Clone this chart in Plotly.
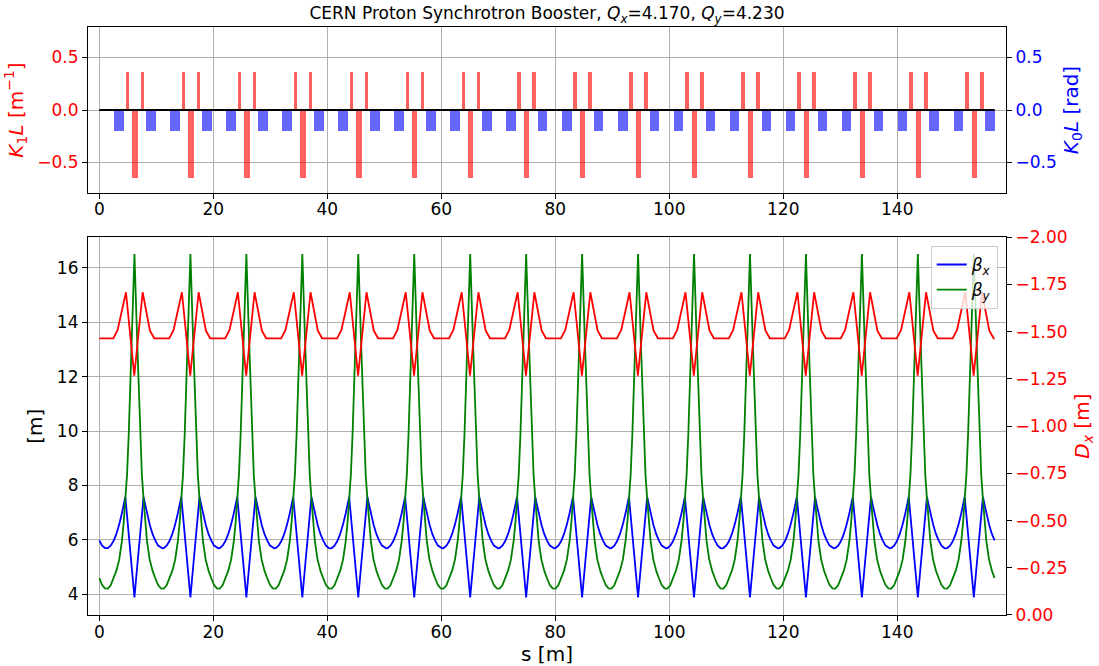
import plotly.graph_objects as go

# ---------------- data ----------------
cell_starts = [0.0, 9.8175, 19.635, 29.4525, 39.27, 49.0875, 58.905, 68.7225,
               78.54, 88.3575, 98.175, 107.9925, 117.81, 127.6275, 137.445, 147.2625]
ring_length = 157.08

# magnets of one cell
dip_pos = [3.47, 9.06]
dip_len = [1.7, 1.7]
dip_k0l = [-0.196, -0.196]
quad_pos = [4.95, 6.265, 7.58]
quad_len = [0.6, 0.95, 0.6]
quad_k1l = [0.366, -0.647, 0.366]

# optics in one cell
s_beta_cell = [0.0, 0.5, 1.0, 1.26, 1.5, 2.0, 2.5, 2.97, 3.0, 3.47, 3.5, 3.97, 4.0,
               4.27, 4.3, 4.57, 4.87, 5.17, 5.67, 6.17, 6.67, 7.17, 7.47, 7.77,
               8.04, 8.07, 8.34, 8.37, 8.84, 8.87, 9.34, 9.37]
betx_cell = [5.98, 5.79, 5.70, 5.69, 5.70, 5.79, 5.96, 6.20, 6.22, 6.55, 6.57, 6.98, 7.01,
             7.28, 7.31, 7.58, 6.89, 6.20, 5.06, 3.89, 5.06, 6.20, 6.89, 7.58,
             7.31, 7.28, 7.01, 6.98, 6.57, 6.55, 6.22, 6.20]
bety_cell = [4.60, 4.34, 4.22, 4.20, 4.21, 4.33, 4.57, 4.85, 4.87, 5.25, 5.28, 5.95, 6.00,
             6.60, 6.68, 7.50, 8.40, 9.90, 13.20, 16.50, 13.20, 9.90, 8.40, 7.50,
             6.68, 6.60, 6.00, 5.95, 5.28, 5.25, 4.87, 4.85]
s_dx_cell = [0.0, 2.46, 3.22, 4.68, 6.14, 7.61, 8.89, 9.65]
dx_cell = [-1.465, -1.465, -1.509, -1.709, -1.267, -1.709, -1.505, -1.465]
end_betx, end_bety, end_dx = 5.98, 4.60, -1.465

title_text = ("CERN Proton Synchrotron Booster, <i>Q<sub>x</sub></i>=4.170, "
              "<i>Q<sub>y</sub></i>=4.230")
x_ticks = [0, 20, 40, 60, 80, 100, 120, 140]
k_ticks = [-0.5, 0.0, 0.5]
k_ticktext = ["\u22120.5", "0.0", "0.5"]
beta_ticks = [4, 6, 8, 10, 12, 14, 16]
dx_ticks = [-2.0, -1.75, -1.5, -1.25, -1.0, -0.75, -0.5, -0.25, 0.0]
dx_ticktext = ["\u22122.00", "\u22121.75", "\u22121.50", "\u22121.25", "\u22121.00",
               "\u22120.75", "\u22120.50", "\u22120.25", "0.00"]

# ---------------- build full-ring arrays ----------------
s_beta, betx, bety = [], [], []
for s0 in cell_starts:
    for s, bx, by in zip(s_beta_cell, betx_cell, bety_cell):
        s_beta.append(s0 + s); betx.append(bx); bety.append(by)
s_beta.append(ring_length); betx.append(end_betx); bety.append(end_bety)

s_dx, dx = [], []
for s0 in cell_starts:
    for s, d in zip(s_dx_cell, dx_cell):
        s_dx.append(s0 + s); dx.append(d)
s_dx.append(ring_length); dx.append(end_dx)

q_x, q_w, q_y = [], [], []
d_x, d_w, d_y = [], [], []
for s0 in cell_starts:
    for p, l, k in zip(quad_pos, quad_len, quad_k1l):
        q_x.append(s0 + p); q_w.append(l); q_y.append(k)
    for p, l, k in zip(dip_pos, dip_len, dip_k0l):
        d_x.append(s0 + p); d_w.append(l); d_y.append(k)

# ---------------- figure ----------------
FONT = "DejaVu Sans"
FS = 17
GRID = "#b0b0b0"

fig = go.Figure()
fig.add_trace(go.Bar(x=q_x, y=q_y, width=q_w, marker=dict(color="rgba(255,0,0,0.62)", line=dict(width=0)),
                     xaxis="x", yaxis="y", showlegend=False))
fig.add_trace(go.Bar(x=d_x, y=d_y, width=d_w, marker=dict(color="rgba(0,0,255,0.6)", line=dict(width=0)),
                     xaxis="x", yaxis="y2", showlegend=False))
fig.add_trace(go.Scatter(x=[0, ring_length], y=[0, 0], mode="lines", line=dict(color="black", width=2),
                         xaxis="x", yaxis="y2", showlegend=False))

fig.add_trace(go.Scatter(x=s_beta, y=betx, mode="lines", name="<i>\u03b2<sub>x</sub></i>",
                         line=dict(color="blue", width=1.8), xaxis="x2", yaxis="y3"))
fig.add_trace(go.Scatter(x=s_beta, y=bety, mode="lines", name="<i>\u03b2<sub>y</sub></i>",
                         line=dict(color="green", width=1.8), xaxis="x2", yaxis="y3"))
fig.add_trace(go.Scatter(x=s_dx, y=dx, mode="lines", line=dict(color="red", width=1.8),
                         xaxis="x2", yaxis="y4", showlegend=False))

xr = [-1.98, 159.08]
axis_common = dict(showline=True, linecolor="black", linewidth=1.2, ticks="outside",
                   ticklen=5, tickwidth=1, tickcolor="black", zeroline=False, automargin=False)

fig.update_layout(
    width=1099, height=666,
    margin=dict(l=88, r=93, t=27, b=51),
    paper_bgcolor="white", plot_bgcolor="white",
    font=dict(family=FONT, size=FS, color="black"),
    barmode="overlay", bargap=0,
    title=dict(text=title_text, x=0.5, xref="paper", xanchor="center",
               y=1 - 13 / 666, yref="container", yanchor="middle",
               font=dict(family=FONT, size=FS, color="black")),
    xaxis=dict(domain=[0, 1], anchor="y", range=xr, tickvals=x_ticks, ticklabelstandoff=-4,
               showgrid=True, gridcolor=GRID, gridwidth=1, mirror=True, **axis_common),
    yaxis=dict(domain=[0.7177, 1.0], anchor="x", range=[-0.79, 0.79], tickvals=k_ticks,
               ticktext=k_ticktext, tickfont=dict(color="red"),
               title=dict(text="<i>K</i><sub>1</sub><i>L</i> [m<sup>\u22121</sup>]",
                          font=dict(color="red"), standoff=8),
               showgrid=True, gridcolor=GRID, gridwidth=1, **axis_common),
    yaxis2=dict(overlaying="y", side="right", anchor="x", range=[-0.79, 0.79], tickvals=k_ticks,
                ticktext=k_ticktext, tickfont=dict(color="blue"),
                title=dict(text="<i>K</i><sub>0</sub><i>L</i> [rad]", font=dict(color="blue"), standoff=8),
                showgrid=False, **axis_common),
    xaxis2=dict(domain=[0, 1], anchor="y3", range=xr, tickvals=x_ticks, ticklabelstandoff=-4,
                title=dict(text="s [m]", standoff=7),
                showgrid=True, gridcolor=GRID, gridwidth=1, mirror=True, **axis_common),
    yaxis3=dict(domain=[0, 0.6424], anchor="x2", range=[3.24, 17.12], tickvals=beta_ticks,
                title=dict(text="[m]", standoff=8),
                showgrid=True, gridcolor=GRID, gridwidth=1, **axis_common),
    yaxis4=dict(overlaying="y3", side="right", anchor="x2", range=[0.0, -2.0], tickvals=dx_ticks,
                ticktext=dx_ticktext, tickfont=dict(color="red"),
                title=dict(text="<i>D<sub>x</sub></i> [m]", font=dict(color="red"), standoff=8),
                showgrid=False, **axis_common),
    legend=dict(x=0.991, y=0.6276, xanchor="right", yanchor="top",
                bgcolor="rgba(255,255,255,0.8)", bordercolor="#cccccc", borderwidth=1,
                font=dict(family=FONT, size=FS), tracegroupgap=0, itemwidth=30),
)

fig.write_html("out.html")
